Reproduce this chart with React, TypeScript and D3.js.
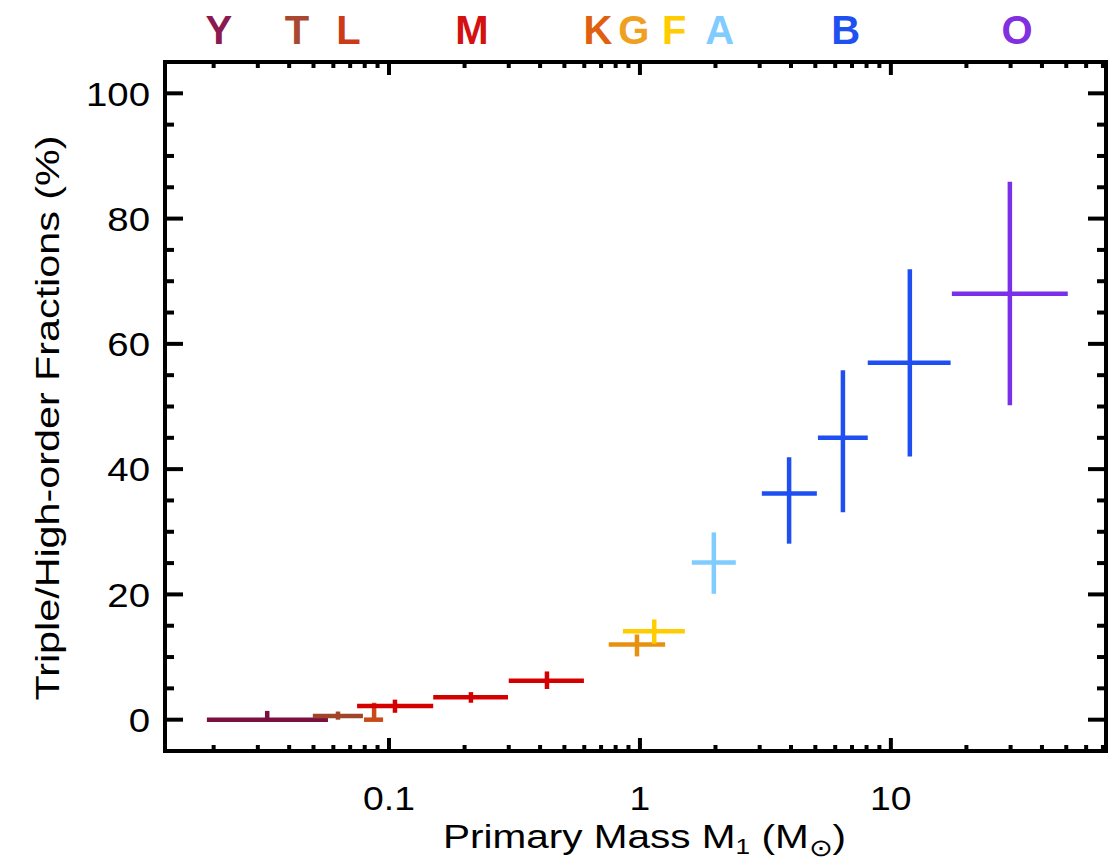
import React from "react";
import * as d3 from "d3";

// spectral type labels along the top, placed at a representative mass
const typeLabels = ["Y", "T", "L", "M", "K", "G", "F", "A", "B", "O"];
const typeMass = [0.021, 0.043, 0.069, 0.214, 0.68, 0.946, 1.37, 2.08, 6.6, 31.8];
const typeColors = ["#8a1a50", "#a84830", "#cc3a1a", "#d41010", "#e06010", "#f0a020", "#ffcc00", "#80ccff", "#1f50f0", "#8030e0"];

// triple / high-order fractions per mass bin
const massMid = [0.0327, 0.0626, 0.0872, 0.1056, 0.212, 0.426, 0.973, 1.14, 1.97, 3.93, 6.44, 11.9, 29.8];
const massLo = [0.0188, 0.0497, 0.0795, 0.0746, 0.15, 0.3, 0.751, 0.855, 1.61, 3.06, 5.12, 8.09, 17.5];
const massHi = [0.0571, 0.0787, 0.0947, 0.15, 0.298, 0.598, 1.26, 1.51, 2.41, 5.07, 8.09, 17.3, 50.7];
const frac = [0, 0.6, 0, 2.2, 3.6, 6.2, 12.0, 14.1, 25.1, 36.1, 45.0, 57.0, 68.0];
const fracLo = [0, 0, 0, 1.1, 2.7, 4.9, 10.1, 12.1, 20.1, 28.1, 33.1, 42.0, 50.2];
const fracHi = [1.4, 1.3, 2.7, 3.2, 4.4, 7.7, 13.6, 16.0, 29.9, 41.9, 55.8, 71.9, 85.9];
const pointColors = ["#7a1040", "#a0442a", "#c84a1a", "#d40000", "#d40000", "#d40000", "#e89010", "#ffcc00", "#80ccff", "#1f4ff0", "#1f4ff0", "#1f4ff0", "#7a30e8"];

const yTicks = [0, 20, 40, 60, 80, 100];
const xTicks = [0.1, 1, 10];
const xTickLabels = ["0.1", "1", "10"];

const left = 165, right = 1106, top = 62, bottom = 751;
const font = "'Liberation Sans', Arial, Helvetica, sans-serif";

export default function App() {
  const x = d3.scaleLog().domain([0.0128, 72]).range([left, right]);
  const y = d3.scaleLinear().domain([-5, 105]).range([bottom, top]);

  const xMinor = x.ticks().filter((t) => !xTicks.some((m) => Math.abs(m - t) < 1e-9) && t <= 70);
  const yMinor = d3.range(0, 101, 5).filter((t) => t % 20 !== 0);

  const tk = { stroke: "#000", strokeWidth: 4 };

  return (
    <svg width={1118} height={863} style={{ position: "absolute", left: 0, top: 0, background: "#fff" }}>
      {/* spectral types */}
      {typeLabels.map((t, i) => (
        <text key={t} x={x(typeMass[i])} y={44} textAnchor="middle" fontFamily={font} fontWeight="bold" fontSize={40} fill={typeColors[i]}>
          {t}
        </text>
      ))}

      {/* y ticks, both sides */}
      {yTicks.map((t) => (
        <g key={"yM" + t}>
          <line x1={left} x2={left + 18} y1={y(t)} y2={y(t)} {...tk} />
          <line x1={right - 18} x2={right} y1={y(t)} y2={y(t)} {...tk} />
          <text x={150} y={y(t)} dy="0.36em" textAnchor="end" fontFamily={font} fontSize={34}
            transform={`translate(150,0) scale(1.13,1) translate(-150,0)`}>
            {t}
          </text>
        </g>
      ))}
      {yMinor.map((t) => (
        <g key={"ym" + t}>
          <line x1={left} x2={left + 9} y1={y(t)} y2={y(t)} {...tk} />
          <line x1={right - 9} x2={right} y1={y(t)} y2={y(t)} {...tk} />
        </g>
      ))}

      {/* x ticks, both sides */}
      {xTicks.map((t, i) => (
        <g key={"xM" + t}>
          <line x1={x(t)} x2={x(t)} y1={bottom} y2={bottom - 13} {...tk} />
          <line x1={x(t)} x2={x(t)} y1={top} y2={top + 13} {...tk} />
          <text x={x(t)} y={810} textAnchor="middle" fontFamily={font} fontSize={33}
            transform={`translate(${x(t)},0) scale(1.13,1) translate(${-x(t)},0)`}>
            {xTickLabels[i]}
          </text>
        </g>
      ))}
      {xMinor.map((t) => (
        <g key={"xm" + t}>
          <line x1={x(t)} x2={x(t)} y1={bottom} y2={bottom - 6} {...tk} />
          <line x1={x(t)} x2={x(t)} y1={top} y2={top + 6} {...tk} />
        </g>
      ))}

      {/* frame */}
      <rect x={left} y={top} width={right - left} height={bottom - top} fill="none" stroke="#000" strokeWidth={4} />

      {/* error crosses */}
      {massMid.map((m, i) => (
        <g key={"p" + i} stroke={pointColors[i]} strokeWidth={4.5}>
          <line x1={x(massLo[i])} x2={x(massHi[i])} y1={y(frac[i])} y2={y(frac[i])} />
          <line x1={x(m)} x2={x(m)} y1={y(fracLo[i])} y2={y(fracHi[i])} />
        </g>
      ))}

      {/* axis titles */}
      <text x={443} y={848} fontFamily={font} fontSize={34} textLength={403} lengthAdjust="spacingAndGlyphs">
        Primary Mass M
        <tspan fontSize={22} dy={6}>1</tspan>
        <tspan dy={-6}> (M</tspan>
        <tspan fontSize={24} dy={8}>⊙</tspan>
        <tspan dy={-8}>)</tspan>
      </text>
      <text transform="translate(59,418) rotate(-90)" textAnchor="middle" fontFamily={font} fontSize={33}
        textLength={565} lengthAdjust="spacingAndGlyphs">
        Triple/High-order Fractions (%)
      </text>
    </svg>
  );
}
